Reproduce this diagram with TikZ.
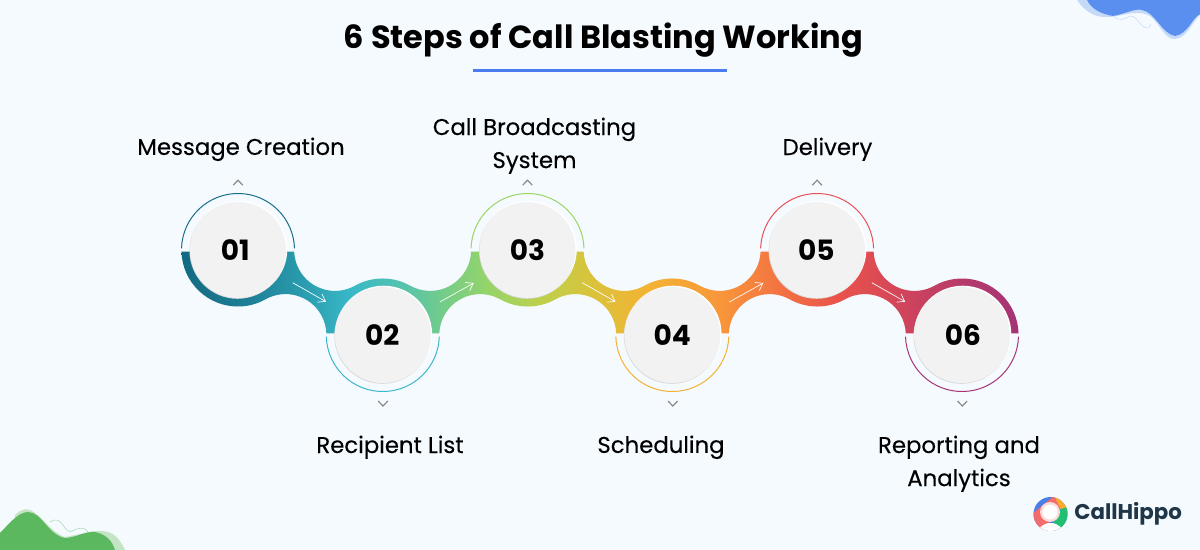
\documentclass[tikz,border=0pt]{standalone}
\usepackage{fontspec}
\setmainfont{Poppins}
\newfontfamily\labelfont{Poppins}[FakeBold=0.25]
\usetikzlibrary{arrows.meta}

\definecolor{pagebg}{HTML}{F5FAFF}
\definecolor{inkgrey}{HTML}{8A8A8A}
\definecolor{disc}{HTML}{F2F2F2}
\definecolor{discshade}{HTML}{D8D8D8}
\definecolor{rule}{HTML}{4A7CF0}
\definecolor{cA}{HTML}{1A6F88}
\definecolor{cB}{HTML}{3BB8C8}
\definecolor{cC}{HTML}{9BD565}
\definecolor{cD}{HTML}{F4B133}
\definecolor{cE}{HTML}{EA4F55}
\definecolor{cF}{HTML}{A83474}
\definecolor{blobblue}{HTML}{5A8FF0}
\definecolor{bloblight}{HTML}{C5DAF8}
\definecolor{blobgreen}{HTML}{5CB85F}
\definecolor{blobpale}{HTML}{C5E3C5}
\definecolor{blobline}{HTML}{A8D8B0}
\definecolor{logored}{HTML}{F36B6B}
\definecolor{logoamber}{HTML}{F9AE2B}
\definecolor{logogreen}{HTML}{22BF73}
\definecolor{logopink}{HTML}{FBDADA}
\definecolor{logoblue}{HTML}{4A7FE8}
\definecolor{logotext}{HTML}{1E3648}
\definecolor{r01}{HTML}{126A82}
\definecolor{r02}{HTML}{1E8096}
\definecolor{r03}{HTML}{2A9BAE}
\definecolor{r04}{HTML}{38B8C6}
\definecolor{r05}{HTML}{55C3AF}
\definecolor{r06}{HTML}{72CC8A}
\definecolor{r07}{HTML}{96D468}
\definecolor{r08}{HTML}{BDD04C}
\definecolor{r09}{HTML}{D9C33C}
\definecolor{r10}{HTML}{F4B233}
\definecolor{r11}{HTML}{F8963A}
\definecolor{r12}{HTML}{F37342}
\definecolor{r13}{HTML}{E9524C}
\definecolor{r14}{HTML}{DB4A55}
\definecolor{r15}{HTML}{C8415F}
\definecolor{r16}{HTML}{B43A6C}
\definecolor{r17}{HTML}{A53375}

% Colour run along the ribbon; the path box maps onto 25bp..75bp
\pgfdeclarehorizontalshading{ribbonshade}{100bp}{
  color(0bp)=(r01);
  color(25bp)=(r01);
  color(29.1bp)=(r02);
  color(32.1bp)=(r03);
  color(35.1bp)=(r04);
  color(38.1bp)=(r05);
  color(40.5bp)=(r06);
  color(43.4bp)=(r07);
  color(46.4bp)=(r08);
  color(49.4bp)=(r09);
  color(53bp)=(r10);
  color(57.2bp)=(r11);
  color(60.7bp)=(r12);
  color(64.3bp)=(r13);
  color(66.7bp)=(r14);
  color(69.1bp)=(r15);
  color(72bp)=(r16);
  color(75bp)=(r17);
  color(100bp)=(r17)}

\tikzset{
  x=0.75pt, y=-0.75pt,
  numdisc/.style={circle, fill=disc, minimum size=72pt, inner sep=0pt,
    font=\fontsize{21}{24}\selectfont\bfseries, text=black},
  steplabel/.style={align=center, text=black, inner sep=0pt,
    font=\labelfont\fontsize{17.1}{24.8}\selectfont},
  thinarc/.style={line width=0.75pt},
  chev/.style={draw=inkgrey, line width=0.9pt},
  flow/.style={draw=white, line width=0.5pt, -{Straight Barb[length=5pt,width=7pt]}},
}
\newcommand{\ringr}{56.5}
\newcommand{\fil}{40.9}

\begin{document}
\begin{tikzpicture}
\useasboundingbox (0,0) rectangle (1200,550);
\fill[pagebg] (0,0) rectangle (1200,550);

% corner blobs
\fill[bloblight] (1077,0) .. controls (1085,12) and (1095,17) .. (1105,17)
  .. controls (1120,18) and (1135,8) .. (1150,16) .. controls (1160,24) and (1165,40) .. (1175,39)
  .. controls (1187,38) and (1192,22) .. (1200,15) -- (1200,0) -- cycle;
\fill[blobblue] (1087,0) .. controls (1092,10) and (1102,14) .. (1113,16)
  .. controls (1125,14) and (1135,8) .. (1142,10) .. controls (1155,12) and (1162,34) .. (1175,36)
  .. controls (1188,34) and (1192,18) .. (1200,14) -- (1200,0) -- cycle;
\draw[bloblight, line width=0.4pt] (1113,16) .. controls (1118,21) and (1124,20) .. (1130,16)
  .. controls (1138,16) and (1140,28) .. (1148,28) .. controls (1150,27) and (1150,26) .. (1151,24);

\fill[blobpale] (15,515) .. controls (20,510) and (25,508) .. (30,510)
  .. controls (42,515) and (50,532) .. (65,537) -- (90,532) .. controls (110,528) and (118,535) .. (125,550)
  -- (15,550) -- cycle;
\fill[blobgreen] (0,533) .. controls (8,525) and (18,512) .. (28,512)
  .. controls (42,512) and (48,535) .. (65,538) .. controls (75,538) and (85,531) .. (95,532)
  .. controls (105,534) and (112,540) .. (115,550) -- (0,550) -- cycle;
\draw[blobline, line width=0.4pt] (50,522) .. controls (55,518) and (60,520) .. (63,525)
  .. controls (66,530) and (70,533) .. (72,531) .. controls (78,528) and (84,526) .. (88,532);

% title and its rule
\node[inner sep=0pt, font=\fontsize{24}{28}\selectfont\bfseries] (title) at (603.5,40.5) {6 Steps of Call Blasting Working};
\coordinate (ruleL) at (473,70.5);
\coordinate (ruleR) at (727,70.5);
\draw[rule, line width=1.6pt] (ruleL) -- (ruleR);

% ribbon running through the six discs
\path[shading=ribbonshade] (181.46,251.7)
  arc[start angle=178.28,end angle=60.75,radius=\ringr]
  arc[start angle=240.75,end angle=357.62,radius=\fil]
  -- (439.34,333.3)
  arc[start angle=182.38,end angle=299.25,radius=\fil]
  arc[start angle=119.25,end angle=60.75,radius=\ringr]
  arc[start angle=240.75,end angle=357.62,radius=\fil]
  -- (728.84,333.3)
  arc[start angle=182.38,end angle=299.25,radius=\fil]
  arc[start angle=119.25,end angle=60.75,radius=\ringr]
  arc[start angle=240.75,end angle=357.62,radius=\fil]
  -- (1018.54,333.3)
  arc[start angle=358.28,end angle=240.75,radius=\ringr]
  arc[start angle=60.75,end angle=177.62,radius=\fil]
  -- (760.56,251.7)
  arc[start angle=2.38,end angle=119.25,radius=\fil]
  arc[start angle=299.25,end angle=240.75,radius=\ringr]
  arc[start angle=60.75,end angle=177.62,radius=\fil]
  -- (471.06,251.7)
  arc[start angle=2.38,end angle=119.25,radius=\fil]
  arc[start angle=299.25,end angle=240.75,radius=\ringr]
  arc[start angle=60.75,end angle=177.62,radius=\fil]
  -- cycle;

% thin half rings on the free side of each disc
\draw[thinarc,cA] (181.53,248.3) arc[start angle=181.7,end angle=358.3,radius=\ringr];
\draw[thinarc,cB] (326.33,336.7) arc[start angle=178.3,end angle=1.7,radius=\ringr];
\draw[thinarc,cC] (471.03,248.3) arc[start angle=181.7,end angle=358.3,radius=\ringr];
\draw[thinarc,cD] (615.83,336.7) arc[start angle=178.3,end angle=1.7,radius=\ringr];
\draw[thinarc,cE] (760.63,248.3) arc[start angle=181.7,end angle=358.3,radius=\ringr];
\draw[thinarc,cF] (905.53,336.7) arc[start angle=178.3,end angle=1.7,radius=\ringr];

% numbered discs with a soft rim
\foreach \cx/\cy/\num/\nm in {238/250/\kern-4pt 01/n1,382.8/335/\kern-1pt 02/n2,527.5/250/03/n3,672.3/335/04/n4,817.1/250/\kern-1pt 05/n5,962/335/\kern1.5pt 06/n6}{
  \fill[white] (\cx+0.8,\cy-0.8) circle[radius=48.5];
  \fill[discshade] (\cx-0.5,\cy+0.8) circle[radius=48];
  \node[numdisc] (\nm) at (\cx,\cy) {\num};
}

% flow arrows across each link
\foreach \sx/\sy/\ex/\ey/\nm in {292.7/282.7/326/301.7/a,439.8/302/473.8/283/b,582.2/282.7/615.5/301.7/c,729.3/302/763.3/283/d,871.8/282.7/905.1/301.7/e}{
  \coordinate (\nm s) at (\sx,\sy);
  \coordinate (\nm e) at (\ex,\ey);
  \draw[flow] (\nm s) -- (\nm e);
}

% chevrons above and below the discs
\foreach \cx in {238,527.5,817.1}{
  \draw[chev] (\cx-4.8,185.2) -- (\cx,180.2) -- (\cx+4.8,185.2);
}
\foreach \cx in {383,672.8,962.3}{
  \draw[chev] (\cx-4.8,401) -- (\cx,406) -- (\cx+4.8,401);
}

% step labels
\node[steplabel] (l1) at (241,149.3) {Message Creation};
\node[steplabel] (l3) at (534.5,145.8) {Call Broadcasting\\System};
\node[steplabel] (l5) at (827.5,149.3) {Delivery};
\node[steplabel] (l2) at (390,447.3) {Recipient List};
\node[steplabel] (l4) at (661,447.3) {Scheduling};
\node[steplabel] (l6) at (959,463.8) {Reporting and\\Analytics};

% company mark
\begin{scope}
  \clip (1050.5,514) circle[radius=17];
  \fill[logoblue] (1033,495) rectangle (1068,533);
  \fill[logored] (1033,526) -- (1033,513) -- (1054,496) -- (1062,502) -- (1044,530) -- cycle;
  \fill[logoamber] (1054,495) -- (1070,495) -- (1070,512) -- (1062,512) -- cycle;
  \fill[logogreen] (1061,509) -- (1070,506) -- (1070,530) -- (1050,530) -- cycle;
  \fill[logopink] (1050,512) circle[radius=10];
  \fill[white] (1050,512) circle[radius=7.5];
  \fill[white] (1050.5,536) ellipse[x radius=14,y radius=13];
\end{scope}
\node[inner sep=0pt, anchor=west, text=logotext, font=\fontsize{16}{20}\selectfont\bfseries] (brand) at (1074,514) {CallHippo};
\end{tikzpicture}
\end{document}
